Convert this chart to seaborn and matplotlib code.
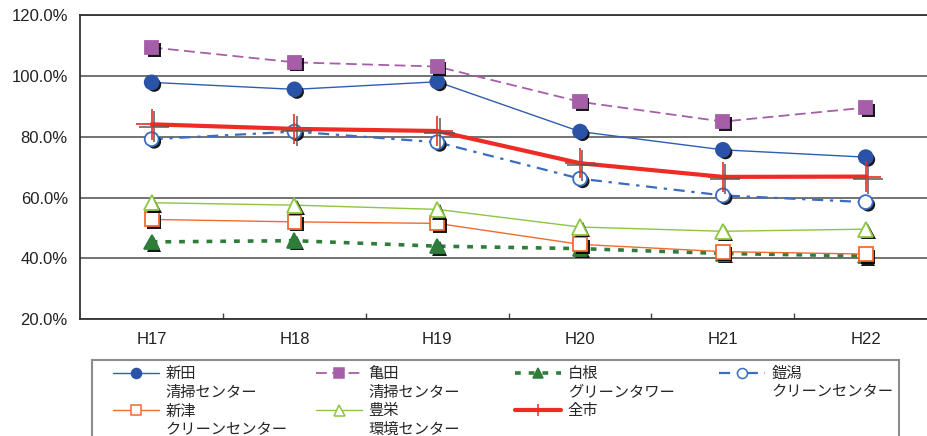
import matplotlib
matplotlib.use('Agg')
import matplotlib.pyplot as plt
import matplotlib.patheffects as pe
from matplotlib.lines import Line2D
from matplotlib.patches import Rectangle
from matplotlib.ticker import PercentFormatter, FixedLocator
import seaborn as sns

# data (%)
years = ['H17', 'H18', 'H19', 'H20', 'H21', 'H22']
shinden = [97.9, 95.6, 98.1, 81.7, 75.7, 73.3]
kameda = [109.4, 104.5, 103.1, 91.5, 85.0, 89.6]
shirone = [45.4, 45.8, 44.0, 43.2, 41.6, 40.8]
yoroigata = [79.2, 81.7, 78.2, 66.2, 60.7, 58.5]
niitsu = [52.8, 52.0, 51.5, 44.6, 42.2, 41.4]
toyosaka = [58.3, 57.5, 56.1, 50.3, 48.9, 49.6]
city_total = [84.1, 82.6, 81.9, 71.3, 66.8, 66.9]

facility_names = ['新田', '亀田', '白根', '鎧潟', '新津', '豊栄', '全市']
facility_types = ['清掃センター', '清掃センター', 'グリーンタワー', 'クリーンセンター',
                  'クリーンセンター', '環境センター', '']
series = [shinden, kameda, shirone, yoroigata, niitsu, toyosaka, city_total]

styles = [
    dict(color='#2F5DB0', lw=1.0, ls='-', marker='o', ms=10, mfc='#2A52A6', mec='#2A52A6'),
    dict(color='#A65EA9', lw=1.3, ls=(0, (6, 3)), marker='s', ms=9.5, mfc='#A65EA9', mec='#A65EA9'),
    dict(color='#2E7D3B', lw=2.6, ls=(0, (1.6, 2.2)), marker='^', ms=10.5, mfc='#2E7D3B', mec='#2E7D3B'),
    dict(color='#3B6CC4', lw=1.6, ls=(0, (5, 3, 1.5, 3)), marker='o', ms=10, mfc='white', mec='#3B6CC4'),
    dict(color='#F26B2E', lw=1.0, ls='-', marker='s', ms=10, mfc='white', mec='#F26B2E'),
    dict(color='#8DC63F', lw=1.0, ls='-', marker='^', ms=11, mfc='white', mec='#8DC63F'),
    dict(color='#EE2B25', lw=3.0, ls='-', marker='+', ms=22, mfc='none', mec='#EE2B25'),
]

sns.set_theme(style='white')
plt.rcParams['font.family'] = ['Liberation Sans', 'Noto Sans CJK JP']

fig = plt.figure(figsize=(9.27, 4.36), dpi=100)
ax = fig.add_axes([0.0866, 0.2681, 0.9243, 0.697])

for vals, st in zip(series, styles):
    sns.lineplot(x=years, y=vals, ax=ax, color=st['color'], lw=st['lw'],
                 linestyle=st['ls'], errorbar=None, sort=False)
    if st['marker'] == '+':
        fx = [pe.SimpleLineShadow(offset=(1.6, -1.6), shadow_color='#555555', alpha=0.9),
              pe.Normal()]
        mew = 1.2
    else:
        fx = [pe.SimplePatchShadow(offset=(1.8, -1.8), shadow_rgbFace='black', alpha=0.9),
              pe.Normal()]
        mew = 1.3
    sns.lineplot(x=years, y=vals, ax=ax, linestyle='none', errorbar=None, sort=False,
                 marker=st['marker'], markersize=st['ms'], markerfacecolor=st['mfc'],
                 markeredgecolor=st['mec'], markeredgewidth=mew, path_effects=fx)

ax.set_xlim(-0.5, 5.5)
ax.set_ylim(20, 120)
ax.set_yticks([20, 40, 60, 80, 100, 120])
ax.yaxis.set_major_formatter(PercentFormatter(decimals=1))
ax.xaxis.set_minor_locator(FixedLocator([0.5, 1.5, 2.5, 3.5, 4.5]))
ax.tick_params(axis='x', which='major', length=0, pad=9, labelsize=12, colors='#222222')
ax.tick_params(axis='x', which='minor', direction='in', length=4, width=1, color='#444444',
               bottom=True)
ax.tick_params(axis='y', length=0, pad=9, labelsize=12, colors='#222222')
ax.set_xlabel('')
ax.set_ylabel('')
ax.grid(axis='y', color='#5a5a5a', lw=1.2)
ax.set_axisbelow(True)
for side in ['left', 'bottom', 'top']:
    ax.spines[side].set_color('#333333')
    ax.spines[side].set_linewidth(1.3)
ax.spines['right'].set_visible(False)

# legend: four columns with equal widths, framed box cut at the bottom
fig.patches.append(Rectangle((92 / 927, -0.2), 807 / 927, 0.2 + (436 - 360) / 436,
                             transform=fig.transFigure, fill=False,
                             edgecolor='#8c8c8c', lw=1.5))
columns = [[0, 4], [1, 5], [2, 6], [3]]
col_x = [113, 316, 515, 719]
blank = Line2D([], [], linestyle='none')
for idxs, x in zip(columns, col_x):
    handles, labels = [], []
    for i in idxs:
        st = styles[i]
        scale = 0.4 if st['marker'] == '+' else 0.72
        handles.append(Line2D([], [], color=st['color'], lw=st['lw'], linestyle=st['ls'],
                              marker=st['marker'], markersize=st['ms'] * scale,
                              markerfacecolor=st['mfc'], markeredgecolor=st['mec'],
                              markeredgewidth=1.1))
        labels.append(facility_names[i])
        if facility_types[i]:
            handles.append(blank)
            labels.append(facility_types[i])
    fig.legend(handles, labels, loc='upper left', bbox_to_anchor=(x / 927, 1 - 367 / 436),
               frameon=False, fontsize=11, handlelength=3.0, handletextpad=0.45,
               labelspacing=0.3, borderpad=0, borderaxespad=0, numpoints=1)

fig.savefig('out.png', dpi=100)
